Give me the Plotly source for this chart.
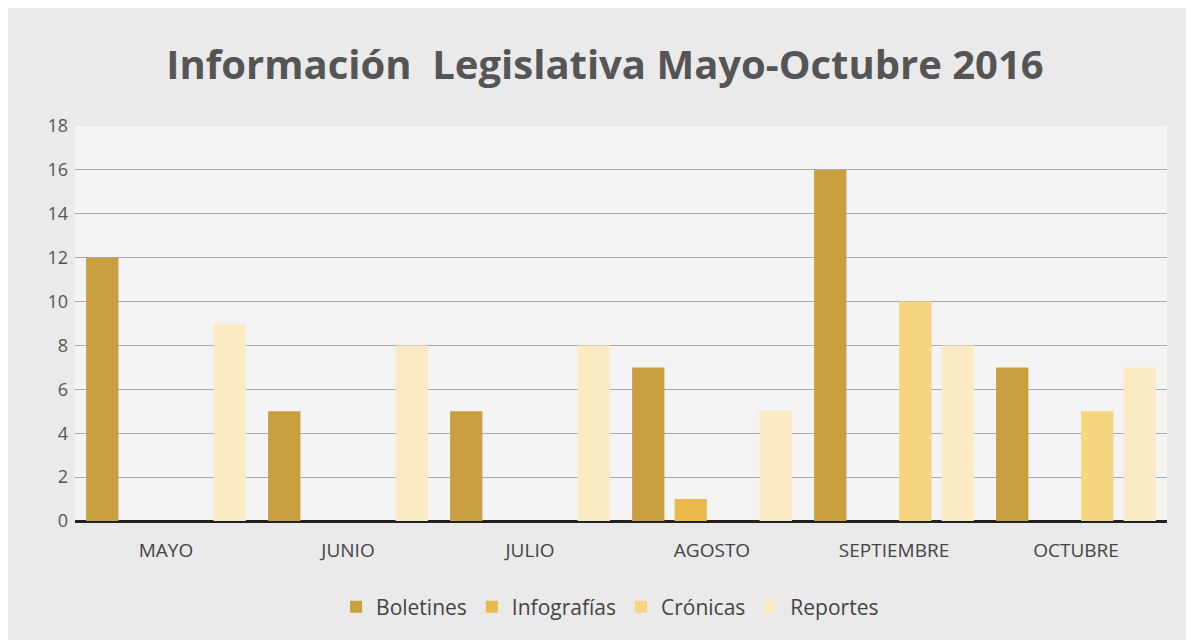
import plotly.graph_objects as go

months = ["MAYO", "JUNIO", "JULIO", "AGOSTO", "SEPTIEMBRE", "OCTUBRE"]
boletines = [12, 5, 5, 7, 16, 7]
infografias = [0, 0, 0, 1, 0, 0]
cronicas = [0, 0, 0, 0, 10, 5]
reportes = [9, 8, 8, 5, 8, 7]
y_ticks = [0, 2, 4, 6, 8, 10, 12, 14, 16, 18]

series = [
    ("Boletines", boletines, "#C9A03F"),
    ("Infografías", infografias, "#E9B94B"),
    ("Crónicas", cronicas, "#F6D580"),
    ("Reportes", reportes, "#FBEBC4"),
]

fig = go.Figure()
for name, vals, col in series:
    fig.add_trace(go.Bar(x=months, y=vals, name=name, marker=dict(color=col, line=dict(width=0))))

fig.update_layout(
    width=1194, height=640,
    paper_bgcolor="#EAEAEA",
    plot_bgcolor="#F4F4F4",
    font=dict(family="Open Sans", color="#555555"),
    title=dict(text="<b>Información  Legislativa Mayo-Octubre 2016</b>",
               x=0.5, xanchor="center", y=0.911, yanchor="middle",
               font=dict(size=40, color="#555555")),
    margin=dict(l=67, r=35, t=118, b=127),
    barmode="group", bargap=0.066, bargroupgap=0.24,
    showlegend=True,
    legend=dict(orientation="h", x=0.49, xanchor="center", y=-0.218, yanchor="middle",
                font=dict(size=21, color="#444444"), bgcolor="rgba(0,0,0,0)",
                itemwidth=30, traceorder="normal"),
    xaxis=dict(tickfont=dict(size=19, color="#444444"), showgrid=False, ticks="",
               showline=False, ticklabelstandoff=16),
    yaxis=dict(range=[0, 18], tickvals=y_ticks, tickfont=dict(size=18, color="#555555"),
               gridcolor="#A8A8A8", gridwidth=1, zeroline=True, zerolinecolor="#222222",
               zerolinewidth=3, showline=False, ticks="", ticklen=0, ticklabelstandoff=6),
)
fig.write_html("out.html")
